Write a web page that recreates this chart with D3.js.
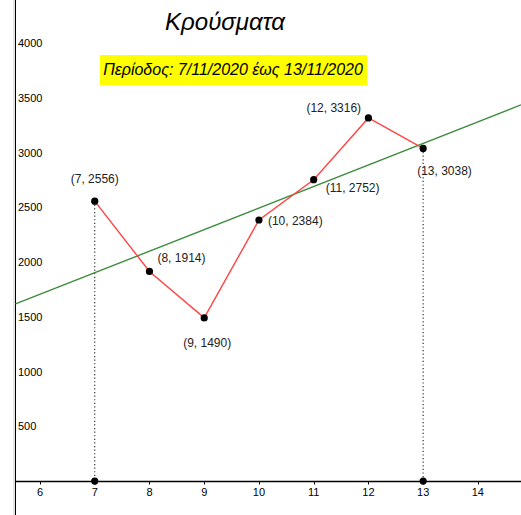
<!doctype html>
<html lang="el">
<head>
<meta charset="utf-8">
<style>
html, body {
    margin: 0;
    padding: 0;
    background: #fff;
    overflow: hidden;
}
svg {
    display: block;
    font-family: "Liberation Sans", Arial, sans-serif;
}
</style>
</head>
<body>
<svg id="chart" width="521" height="515"></svg>
<script src="https://cdn.jsdelivr.net/npm/d3@7"></script>
<script>
// data
const days = [7, 8, 9, 10, 11, 12, 13];
const cases = [2556, 1914, 1490, 2384, 2752, 3316, 3038];
const xTicks = [6, 7, 8, 9, 10, 11, 12, 13, 14];
const yTicks = [500, 1000, 1500, 2000, 2500, 3000, 3500, 4000];
const title = 'Κρούσματα';
const subtitle = 'Περίοδος: 7/11/2020 έως 13/11/2020';

// where each point label sits, relative to its point (px)
const labelOffsets = [[-24, -18], [8, -9], [-21, 29], [9, 5], [12, 12], [-62, -6], [-6, 27]];

const width = 521, height = 515, axisLeft = 15.5;
const svg = d3.select('#chart');

const x = d3.scaleLinear().domain([5.2694, 14.7877]).range([0, width]);
const y = d3.scaleLinear().domain([4393, -310]).range([0, height]);

// left border and pinned y axis
svg.append('rect').attr('x', 13).attr('y', 0).attr('width', 2).attr('height', height).attr('fill', '#e4e4e4');
svg.append('line').attr('x1', axisLeft).attr('x2', axisLeft).attr('y1', 0).attr('y2', height)
    .attr('stroke', '#000').attr('stroke-width', 1);

svg.selectAll('.ylab').data(yTicks).enter().append('text')
    .attr('class', 'ylab')
    .attr('x', 18)
    .attr('y', d => y(d) + 4)
    .attr('font-size', 11)
    .text(d => d);

// x axis
const x0 = Math.round(y(0)) + 0.5;
svg.append('line').attr('x1', 15).attr('x2', width).attr('y1', x0).attr('y2', x0)
    .attr('stroke', '#000').attr('stroke-width', 1.3);
svg.selectAll('.xtick').data(xTicks).enter().append('line')
    .attr('x1', d => Math.round(x(d)) + 0.5).attr('x2', d => Math.round(x(d)) + 0.5)
    .attr('y1', x0).attr('y2', x0 + 3)
    .attr('stroke', '#000');
svg.selectAll('.xlab').data(xTicks).enter().append('text')
    .attr('x', d => x(d))
    .attr('y', x0 + 14)
    .attr('text-anchor', 'middle')
    .attr('font-size', 11)
    .text(d => d);

// least squares line through the points, from the y axis to the right edge
const mx = d3.mean(days), my = d3.mean(cases);
const slope = d3.sum(days, (d, i) => (d - mx) * (cases[i] - my)) / d3.sum(days, d => (d - mx) ** 2);
const fit = v => my + slope * (v - mx);
const xa = x.invert(axisLeft), xb = x.domain()[1];
svg.append('line')
    .attr('x1', x(xa)).attr('y1', y(fit(xa)))
    .attr('x2', x(xb)).attr('y2', y(fit(xb)))
    .attr('stroke', '#3c8c3c').attr('stroke-width', 1.4);

// dotted drop lines at first and last day
const ends = [0, days.length - 1];
svg.selectAll('.drop').data(ends).enter().append('line')
    .attr('x1', i => x(days[i])).attr('x2', i => x(days[i]))
    .attr('y1', i => y(cases[i])).attr('y2', y(0))
    .attr('stroke', '#333').attr('stroke-width', 1.2).attr('stroke-dasharray', '1.2,2.4');

// red polyline
const pts = days.map((d, i) => [d, cases[i]]);
svg.append('path')
    .attr('d', d3.line().x(d => x(d[0])).y(d => y(d[1]))(pts))
    .attr('fill', 'none').attr('stroke', '#ff4444').attr('stroke-width', 1.4);

// points on axis
svg.selectAll('.foot').data(ends).enter().append('circle')
    .attr('cx', i => x(days[i])).attr('cy', y(0)).attr('r', 3.6).attr('fill', '#000');

svg.selectAll('.pt').data(pts).enter().append('circle')
    .attr('cx', d => x(d[0])).attr('cy', d => y(d[1])).attr('r', 3.6).attr('fill', '#000');

svg.selectAll('.plab').data(pts).enter().append('text')
    .attr('x', (d, i) => x(d[0]) + labelOffsets[i][0])
    .attr('y', (d, i) => y(d[1]) + labelOffsets[i][1])
    .attr('font-size', 12)
    .attr('fill', '#222')
    .text(d => `(${d[0]}, ${d[1]})`);

// title and period box
svg.append('text')
    .attr('x', 225).attr('y', 30)
    .attr('text-anchor', 'middle')
    .attr('font-size', 24).attr('font-style', 'italic')
    .text(title);

svg.append('rect').attr('x', 100).attr('y', 55).attr('width', 267).attr('height', 30).attr('fill', '#ffff00');
svg.append('text')
    .attr('x', 233).attr('y', 75)
    .attr('text-anchor', 'middle')
    .attr('font-size', 16).attr('font-style', 'italic')
    .text(subtitle);
</script>
</body>
</html>
